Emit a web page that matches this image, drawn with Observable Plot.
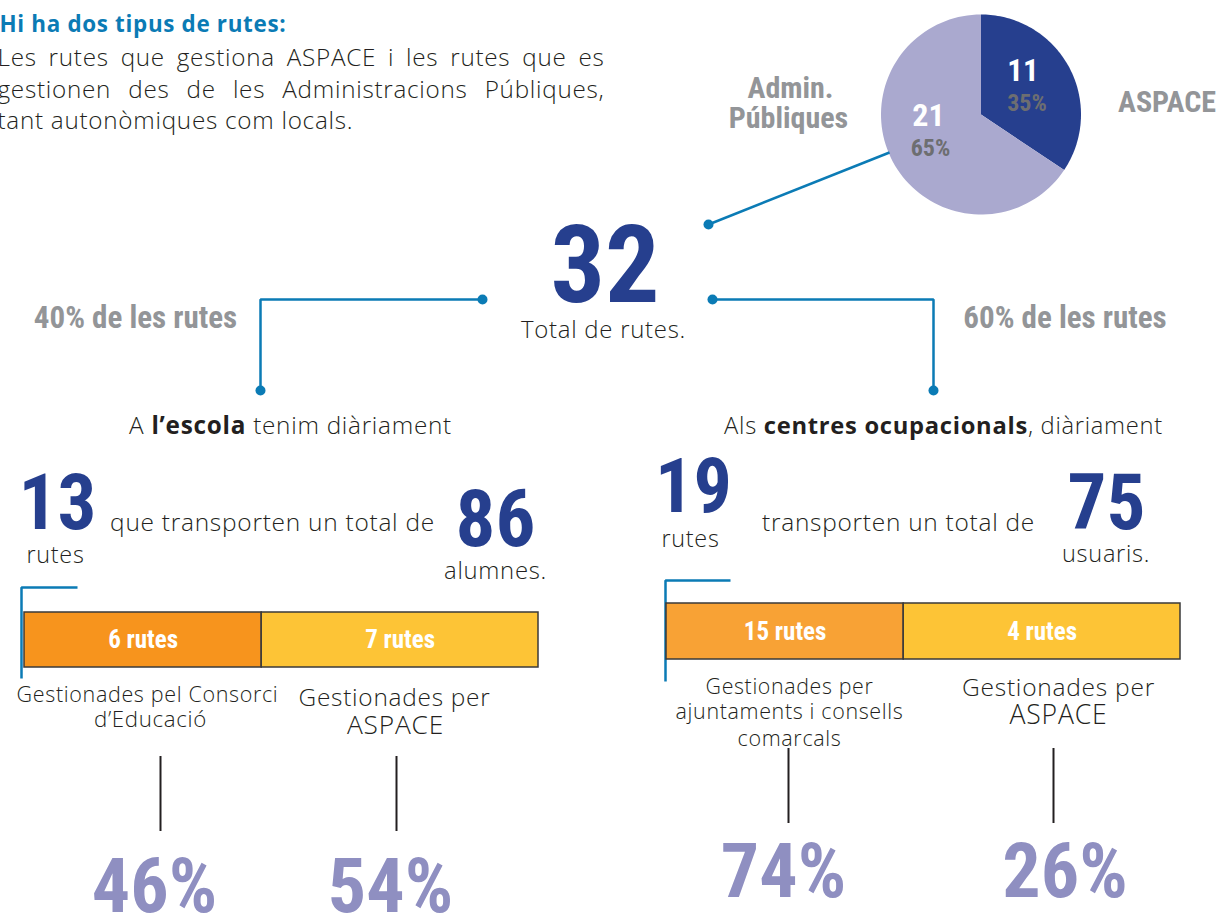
<!DOCTYPE html>
<html><head><meta charset="utf-8">
<script src="https://cdn.jsdelivr.net/npm/d3@7"></script>
<script src="https://cdn.jsdelivr.net/npm/@observablehq/plot@0.6"></script>
<style>
html,body{margin:0;padding:0;background:#fff;overflow:hidden}
#chart svg{display:block}
g[font-family*="Open Sans"] text{letter-spacing:0.03em}
</style>
</head><body><div id="chart"></div>
<script>
// ---------------- DATA ----------------
const introTitle = "Hi ha dos tipus de rutes:";
const introLines = ["Les rutes que gestiona ASPACE i les rutes que es",
                    "gestionen des de les Administracions Públiques,",
                    "tant autonòmiques com locals."];
const pieNames = ["ASPACE", "Admin.", "Públiques"];
const pieValues = [11, 21];
const piePercents = ["35%", "65%"];
const totalRoutes = 32;
const totalLabel = "Total de rutes.";
const branchShares = ["40% de les rutes", "60% de les rutes"];
const schoolRoutes = 13, schoolStudents = 86;
const centreRoutes = 19, centreUsers = 75;
const schoolBarValues = [6, 7];
const centreBarValues = [15, 4];
const schoolManagers = [["Gestionades pel Consorci", "d’Educació"], ["Gestionades per", "ASPACE"]];
const centreManagers = [["Gestionades per", "ajuntaments i consells", "comarcals"], ["Gestionades per", "ASPACE"]];
const schoolPercents = [46, 54];
const centrePercents = [74, 26];

// ---------------- STYLE / LAYOUT ----------------
const W = 1216, H = 916;
const BLUE = "#0b7bb5", NAVY = "#263f8e", LAV = "#aaa9cf", LAVTXT = "#8f8fc1",
      GRAY = "#939598", DGRAY = "#6d6e71", INK = "#231f20",
      ORANGE1 = "#f7941d", ORANGE2 = "#f8a235", YELLOW = "#fdc436";
const COND = "'Liberation Sans Narrow','Roboto Condensed','DejaVu Sans Condensed',sans-serif";
const BODY = "'Open Sans',Lato,sans-serif";
const REG = 360, BOLD = 700;
const LS = 0.03; // letter spacing (em) of body text

const ctx = document.createElement("canvas").getContext("2d");
function wid(t, size, weight) { ctx.font = `${weight} ${size}px ${BODY}`; return ctx.measureText(t).width + LS * size * [...t].length; }
function fitSize(t, target, weight = REG) { return target / (wid(t, 100, weight) / 100); }

// justified paragraph (size fitted to the natural-width last line)
const paraSize = fitSize(introLines[2], 356);
function lineWords(line, x0, x1, y, justify) {
  const words = line.split(" ");
  const widths = words.map(w => wid(w, paraSize, REG));
  const gap = justify ? (x1 - x0 - d3.sum(widths)) / (words.length - 1) : wid(" ", paraSize, REG);
  let x = x0;
  return words.map((w, i) => { const r = {text: w, x, y}; x += widths[i] + gap; return r; });
}
const paraRows = introLines.flatMap((l, i) => lineWords(l, -3, 604, 65.7 + i * 31.3, i < 2));
const titleSize = fitSize(introTitle, 287, BOLD);

// rich (mixed weight) centered line, fitted to a target width
function rich(segs, cx, base, target) {
  const unit = d3.sum(segs, ([t, b]) => wid(t, 100, b ? BOLD : REG)) / 100;
  const size = target / unit;
  const widths = segs.map(([t, b]) => wid(t, size, b ? BOLD : REG));
  let x = cx - d3.sum(widths) / 2;
  return segs.map(([t, b], i) => {
    const lead = t.length - t.trimStart().length;
    const r = {text: t.trim(), x: x + (lead ? wid(" ", size, b ? BOLD : REG) : 0), y: base, bold: b, size};
    x += widths[i]; return r;
  });
}
const richRows = [
  ...rich([["A ", 0], ["l’escola", 1], [" tenim diàriament", 0]], 290, 433, 323),
  ...rich([["Als ", 0], ["centres ocupacionals", 1], [", diàriament", 0]], 943, 433, 439)
];

// pie
const pieC = {x: 980.5, y: 114, r: 100};
const arcs = d3.pie().sort(null)(pieValues);
function slicePts(a, k) {
  const pts = [{x: pieC.x, y: pieC.y, k}];
  const n = 90;
  for (let i = 0; i <= n; i++) {
    const t = a.startAngle + (a.endAngle - a.startAngle) * i / n;
    pts.push({x: pieC.x + pieC.r * Math.sin(t), y: pieC.y - pieC.r * Math.cos(t), k});
  }
  return pts;
}
const pieColors = [NAVY, LAV];

// bars (both boxes divided as in the original layout)
const barBoxes = [{x0: 24, x1: 538, y0: 612, y1: 667, share: 0.4615, colors: [ORANGE1, YELLOW], values: schoolBarValues},
                  {x0: 666, x1: 1180, y0: 603, y1: 659, share: 0.4615, colors: [ORANGE2, YELLOW], values: centreBarValues}];
const barRows = barBoxes.flatMap(b => {
  const s = b.x0 + (b.x1 - b.x0) * b.share;
  return [{x1: b.x0, x2: s, y1: b.y0, y2: b.y1, fill: b.colors[0], label: `${b.values[0]} rutes`},
          {x1: s, x2: b.x1, y1: b.y0, y2: b.y1, fill: b.colors[1], label: `${b.values[1]} rutes`}];
});

// connectors
const connectors = [
  [{x: 889, y: 152}, {x: 708, y: 224}],
  [{x: 482, y: 299}, {x: 260, y: 299}, {x: 260, y: 390}],
  [{x: 712, y: 299}, {x: 933, y: 299}, {x: 933, y: 390}],
  [{x: 77, y: 587}, {x: 21, y: 587}, {x: 21, y: 678}],
  [{x: 730, y: 580}, {x: 665, y: 580}, {x: 665, y: 681}]
].flatMap((pts, i) => pts.map(p => ({...p, id: i})));
const connectorDots = [{x: 708, y: 224}, {x: 482, y: 299}, {x: 260, y: 390}, {x: 712, y: 299}, {x: 933, y: 390}];
const ticks = [{x: 160, y1: 756, y2: 831}, {x: 396, y1: 756, y2: 831}, {x: 788, y1: 748, y2: 823}, {x: 1053, y1: 748, y2: 823}];

// body texts: centre x, target width, baseline
const bodyRows = [
  {text: totalLabel, cx: 603, w: 165, base: 337},
  {text: "rutes", cx: 55, w: 58, base: 562},
  {text: "que transporten un total de", cx: 272, w: 325, base: 530},
  {text: "alumnes.", cx: 495, w: 103, base: 578},
  {text: "rutes", cx: 690, w: 58, base: 546.7},
  {text: "transporten un total de", cx: 898, w: 273, base: 530},
  {text: "usuaris.", cx: 1105.5, w: 88, base: 561.7},
  {text: schoolManagers[0][0], cx: 147, w: 262, base: 701.7},
  {text: schoolManagers[0][1], cx: 150, w: 113, base: 726.7},
  {text: schoolManagers[1][0], cx: 394, w: 192, base: 705},
  {text: schoolManagers[1][1], cx: 395, w: 97, base: 733.3},
  {text: centreManagers[0][0], cx: 789, w: 168, base: 693},
  {text: centreManagers[0][1], cx: 789, w: 228, base: 718},
  {text: centreManagers[0][2], cx: 789, w: 104, base: 745},
  {text: centreManagers[1][0], cx: 1058, w: 193, base: 695},
  {text: centreManagers[1][1], cx: 1058, w: 98, base: 723.3}
].map(d => ({...d, size: fitSize(d.text, d.w)}));

const condRows = [
  {text: pieNames[1], x: 790, y: 87.5, size: 30, fill: GRAY},
  {text: pieNames[2], x: 788, y: 118, size: 30, fill: GRAY},
  {text: pieNames[0], x: 1166.5, y: 101.5, size: 30, fill: GRAY},
  {text: String(pieValues[0]), x: 1022.5, y: 71, size: 31, fill: "#fff"},
  {text: piePercents[0], x: 1026.5, y: 103, size: 24, fill: DGRAY},
  {text: String(pieValues[1]), x: 928, y: 115, size: 32, fill: "#fff"},
  {text: piePercents[1], x: 930, y: 148, size: 24, fill: DGRAY},
  {text: String(totalRoutes), x: 604.5, y: 267, size: 108, fill: NAVY},
  {text: branchShares[0], x: 135, y: 317.5, size: 31, fill: GRAY},
  {text: branchShares[1], x: 1064.5, y: 317.5, size: 31, fill: GRAY},
  {text: String(schoolRoutes), x: 57, y: 503.5, size: 77, fill: NAVY},
  {text: String(schoolStudents), x: 495, y: 520, size: 79, fill: NAVY},
  {text: String(centreRoutes), x: 693, y: 487.5, size: 76, fill: NAVY},
  {text: String(centreUsers), x: 1106, y: 504, size: 77, fill: NAVY},
  ...barRows.map(b => ({text: b.label, x: (b.x1 + b.x2) / 2, y: (b.y1 + b.y2) / 2, size: 25, fill: "#fff"})),
  {text: schoolPercents[0] + "%", x: 154, y: 887.5, size: 76, fill: LAVTXT},
  {text: schoolPercents[1] + "%", x: 390, y: 887.5, size: 76, fill: LAVTXT},
  {text: centrePercents[0] + "%", x: 783, y: 872, size: 76, fill: LAVTXT},
  {text: centrePercents[1] + "%", x: 1064.5, y: 872, size: 76, fill: LAVTXT}
];

const chart = Plot.plot({
  width: W, height: H, margin: 0,
  x: {domain: [0, W], range: [0, W], axis: null},
  y: {domain: [0, H], range: [0, H], axis: null},
  color: {type: "identity"},
  style: {background: "#fff"},
  marks: [
    ...arcs.map((a, i) => Plot.line(slicePts(a, i), {x: "x", y: "y", fill: pieColors[i], stroke: null, curve: "linear-closed"})),
    Plot.line(connectors, {x: "x", y: "y", z: "id", stroke: BLUE, strokeWidth: 2.5, strokeLinejoin: "miter", strokeLinecap: "butt"}),
    Plot.dot(connectorDots, {x: "x", y: "y", r: 5, fill: BLUE}),
    Plot.rect(barRows, {x1: "x1", x2: "x2", y1: "y1", y2: "y2", fill: "fill", stroke: "#3a3a3a", strokeWidth: 1.5}),
    Plot.ruleX(ticks, {x: "x", y1: "y1", y2: "y2", stroke: INK, strokeWidth: 2}),
    Plot.text([{text: introTitle, x: -1, y: 31}], {x: "x", y: "y", text: "text", textAnchor: "start", lineAnchor: "bottom", fontSize: titleSize, fontWeight: BOLD, fontFamily: BODY, fill: BLUE}),
    Plot.text(paraRows, {x: "x", y: "y", text: "text", textAnchor: "start", lineAnchor: "bottom", fontSize: paraSize, fontWeight: REG, fontFamily: BODY, fill: INK}),
    Plot.text(richRows.filter(d => !d.bold), {x: "x", y: "y", text: "text", textAnchor: "start", lineAnchor: "bottom", fontSize: "size", fontWeight: REG, fontFamily: BODY, fill: INK}),
    Plot.text(richRows.filter(d => d.bold), {x: "x", y: "y", text: "text", textAnchor: "start", lineAnchor: "bottom", fontSize: "size", fontWeight: BOLD, fontFamily: BODY, fill: INK}),
    Plot.text(bodyRows, {x: "cx", y: "base", text: "text", lineAnchor: "bottom", fontSize: "size", fontWeight: REG, fontFamily: BODY, fill: INK}),
    Plot.text(condRows, {x: "x", y: "y", text: "text", fontSize: "size", fontWeight: 700, fontFamily: COND, fill: "fill"})
  ]
});
document.getElementById("chart").appendChild(chart);
</script>
</body></html>
